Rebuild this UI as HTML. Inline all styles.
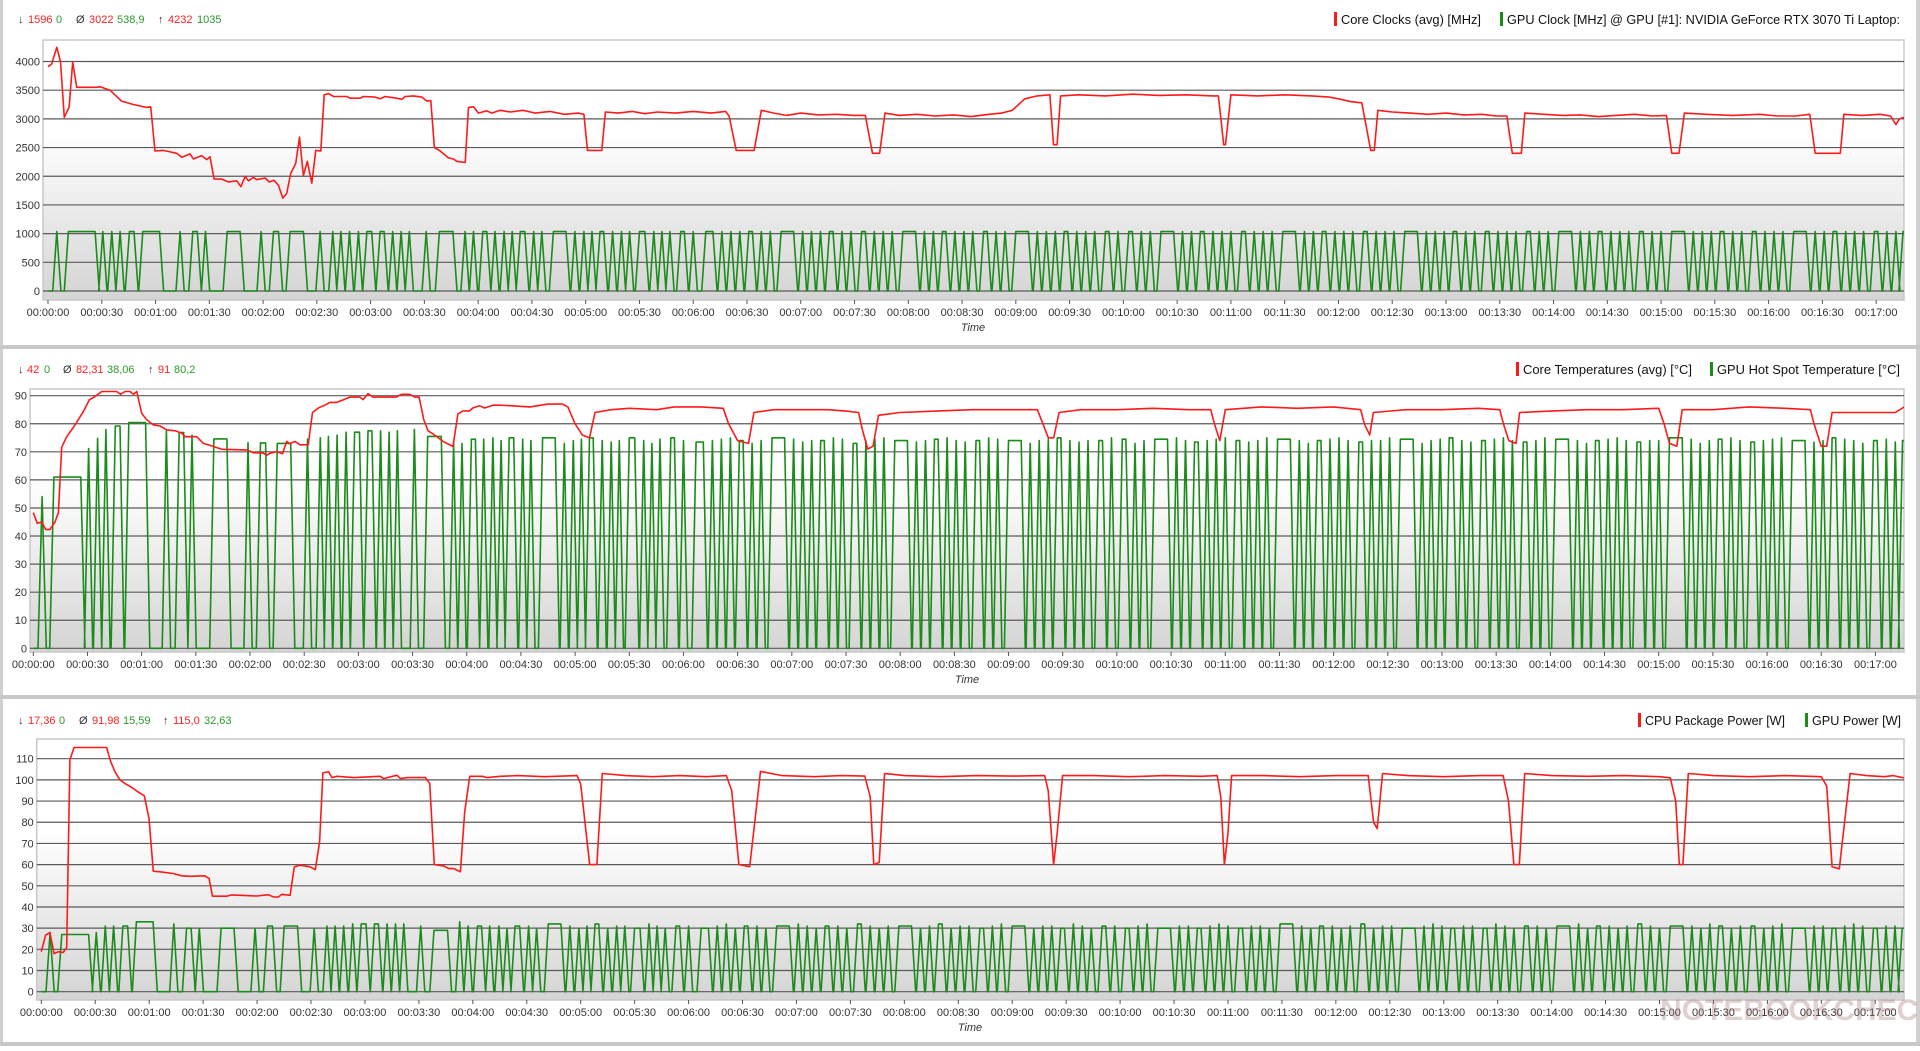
<!DOCTYPE html>
<html><head><meta charset="utf-8"><title>Sensor log</title>
<style>
html,body{margin:0;padding:0;background:#fff;}
body{width:1920px;height:1046px;overflow:hidden;font-family:"Liberation Sans",sans-serif;}
svg text{font-family:"Liberation Sans",sans-serif;}
</style></head>
<body>
<svg id="chart" width="1920" height="1046" viewBox="0 0 1920 1046" xmlns="http://www.w3.org/2000/svg">
<defs>
<linearGradient id="bg" x1="0" y1="0" x2="0" y2="1">
<stop offset="0" stop-color="#ffffff"/><stop offset="0.35" stop-color="#ffffff"/><stop offset="1" stop-color="#d4d4d4"/>
</linearGradient>
</defs>
<rect x="0" y="0" width="1920" height="1046" fill="#fff"/>
<rect x="0" y="0" width="3" height="1046" fill="#d0d0d0"/>
<rect x="1916" y="0" width="4" height="1046" fill="#d0d0d0"/>
<rect x="0" y="345" width="1920" height="4" fill="#c8c8c8"/>
<rect x="0" y="695" width="1920" height="4" fill="#c8c8c8"/>
<rect x="0" y="1042" width="1920" height="4" fill="#c8c8c8"/>
<g id="layer"></g>
<text x="1660" y="1020" font-size="30" font-weight="bold" fill="rgba(170,120,120,0.35)">NOTEBOOKCHECK</text>
</svg>
<script>
// ---------- data ----------
const timeTicks = [0,30,60,90,120,150,180,210,240,270,300,330,360,390,420,450,480,510,540,570,600,630,660,690,720,750,780,810,840,870,900,930,960,990,1020];
const clockTicks = [0,500,1000,1500,2000,2500,3000,3500,4000];
const tempTicks = [0,10,20,30,40,50,60,70,80,90];
const powerTicks = [0,10,20,30,40,50,60,70,80,90,100,110];

const cpuClock = [[0,3910],[2,3955],[4.9,4247],[7,3997],[9.1,3027],[11.8,3200],[13.8,3990],[16,3550],[27,3550],[29,3560],[34.6,3500],[41,3310],[47.6,3250],[55,3200],[57.3,3210],[59.7,2440],[64.4,2450],[71.8,2400],[74.6,2330],[79.3,2390],[81.1,2300],[85.7,2360],[88.5,2290],[90.4,2340],[92.7,1950],[96.9,1950],[100.7,1900],[105.3,1920],[107.6,1820],[110,2000],[111.8,1920],[114.6,1980],[116.5,1940],[121.2,1970],[123.5,1900],[126.1,1930],[128.6,1840],[131,1620],[133.2,1700],[135.4,2050],[138.2,2220],[140.3,2680],[142.5,2010],[144.7,2260],[147.2,1880],[149.4,2450],[152.2,2440],[154.1,3420],[156.5,3440],[159.3,3390],[166.7,3390],[168.6,3360],[174.2,3360],[176,3390],[182.5,3380],[185.3,3350],[188.1,3390],[194.6,3360],[197.4,3340],[199.3,3390],[203.9,3400],[208.6,3380],[211.4,3310],[213.6,3320],[215.6,2500],[218.8,2440],[223.4,2320],[226.2,2300],[228.1,2260],[232.8,2240],[234.6,3200],[237.4,3210],[240.2,3100],[244.8,3140],[247.6,3100],[252.3,3150],[258,3120],[265,3150],[272,3100],[280,3130],[288,3080],[296,3100],[299,3080],[301,2450],[309,2450],[311,3120],[318,3100],[326,3130],[333,3090],[340,3120],[350,3100],[360,3130],[370,3100],[378,3130],[380,3050],[384,2450],[394,2450],[398,3150],[405,3100],[412,3060],[420,3100],[430,3070],[440,3080],[450,3060],[456,3060],[460,2400],[464,2400],[467,3100],[475,3060],[485,3080],[495,3050],[505,3070],[515,3040],[525,3080],[532,3100],[538,3150],[545,3350],[552,3400],[559,3420],[561,2550],[563,2550],[565,3400],[575,3420],[590,3400],[605,3430],[620,3410],[635,3420],[650,3400],[653,3400],[656,2550],[657,2550],[660,3420],[675,3400],[690,3420],[705,3400],[715,3380],[720,3350],[727,3300],[733,3280],[738,2450],[740,2450],[742,3150],[750,3120],[760,3100],[770,3080],[780,3100],[790,3070],[800,3080],[808,3050],[814,3050],[817,2400],[822,2400],[824,3100],[835,3080],[845,3060],[855,3070],[865,3040],[875,3060],[885,3080],[895,3050],[903,3060],[906,2400],[910,2400],[913,3100],[925,3080],[940,3060],[955,3080],[965,3050],[975,3050],[983,3080],[986,2400],[1000,2400],[1002,3080],[1012,3060],[1022,3080],[1028,3050],[1031,2900],[1033,3000],[1036,3030]];

const cpuTemp = [[0,48.3],[2.2,44.5],[4.6,45],[6.9,42.3],[9.2,42.3],[12,45],[13.9,48.3],[15.7,71.6],[18.5,75.4],[22.2,78.7],[27.7,84.3],[31,88.5],[34.2,89.7],[37.9,91.5],[46.2,91.5],[48.4,90.5],[50.8,91.5],[53.6,91.5],[55.4,90.5],[57.3,91.5],[60,83.7],[62.8,81.4],[66.5,79.6],[70.2,79.2],[73.9,77.8],[78.5,77.5],[82.2,76.6],[84,75.4],[90.5,75.4],[94.2,73],[97.9,72.3],[104.4,70.9],[118.2,70.7],[121.9,69.7],[127.4,69.5],[129.3,68.8],[131.1,69.5],[134.8,70.1],[138,69.3],[140.3,73.7],[142.1,72.9],[144.9,73.7],[147.6,72.5],[152.2,72.5],[154.6,84],[157.8,85.6],[161.4,86.6],[164.2,87.6],[167.9,87.6],[170.7,88.3],[175.3,89.5],[180.8,89.5],[182.6,88.6],[185.4,90.7],[188.1,89.5],[201,89.5],[203.8,90.5],[208.4,90.5],[211.2,89.5],[213.6,89.5],[216.2,81.4],[218.6,77.5],[221.3,76.4],[226.9,73.7],[232.4,71.9],[235.1,83.5],[237.9,84.6],[241.6,84.6],[243.4,85.6],[247.1,86.4],[249.9,85.6],[254.5,86.6],[258.2,86.6],[262,86.5],[275,86],[285,87],[293,87],[296,86],[300,80],[304,76],[308,75],[311,84],[320,85],[330,85.5],[345,85],[355,86],[370,86],[382,85.5],[385,80],[390,74],[396,73],[399,84],[410,85],[425,85],[440,85],[450,84.5],[457,84],[459,78],[462,71],[465,72],[468,83],[480,84],[500,84.5],[520,85],[540,85],[556,85],[559,80],[562,75],[565,75],[568,84],[580,85],[600,85],[620,85.5],[640,85],[652,85],[654,80],[657,74],[660,85],[680,86],[700,85.5],[720,86],[735,85],[737,80],[740,76],[742,84],[760,85],[780,85],[800,85.5],[812,85],[814,80],[817,74],[821,73],[823,84],[840,84.5],[860,85],[880,85],[900,85.5],[903,80],[906,73],[910,72],[913,85],[930,85],[950,86],[970,85.5],[984,85],[986,80],[990,72],[993,72],[996,84],[1010,84],[1025,84],[1031,84],[1036,86]];

const cpuPower = [[0,18.9],[2.4,26.7],[4.8,27.9],[7.1,18],[9.5,18.9],[12.2,18.5],[14.1,20.9],[15.9,109.4],[18.2,115.3],[36.3,115.3],[38.6,108.6],[41,103.8],[43.8,99.9],[46.5,98.3],[49.3,97],[53,94.8],[57.3,92.5],[59.9,81.8],[62.3,56.9],[66,56.6],[73.4,55.8],[78.1,54.7],[82.7,54.5],[91,54.7],[93.3,53.4],[95.2,45.1],[103.1,45.1],[105.9,45.7],[119.8,45.2],[126.3,45.8],[129.1,44.7],[131.9,44.7],[133.8,46],[138.4,45.5],[140.7,58.9],[144,59.7],[149.6,58.9],[152.4,57.6],[154.8,70.7],[156.6,103.3],[159.8,103.8],[161.6,101.1],[164.4,101.7],[173.7,101.1],[188.5,101.7],[190.4,100.6],[197.8,102.2],[199.7,100.6],[203.4,101.1],[213.6,101.1],[216,98.3],[218.6,60],[223.8,59.4],[226.6,58.1],[229.4,58.1],[233.1,56.6],[235.5,84.9],[238.3,101.7],[245.2,101.7],[248,101.1],[255.4,101.7],[265,102],[280,101.5],[298,102],[300,98],[305,60],[309,60],[312,103],[325,102],[340,101.5],[355,102],[370,101.5],[381,102],[384,95],[388,60],[394,59],[400,104],[412,102],[430,101.5],[445,102],[458,101.8],[461,92],[463,60],[466,61],[469,103],[480,102],[500,101.5],[520,102],[540,101.8],[558,102],[560,95],[563,60],[565,75],[568,102],[585,102],[605,101.5],[625,102],[645,101.7],[654,102],[656,92],[658,60],[660,75],[662,102],[680,102],[700,101.5],[720,102],[738,102],[741,80],[743,77],[746,103],[760,102],[780,101.5],[800,102],[813,102],[816,90],[819,60],[822,60],[825,103],[840,102],[860,101.7],[880,102],[900,101.5],[906,101],[909,90],[911,60],[913,60],[916,103],[930,102],[950,101.5],[970,102],[990,101.5],[993,97],[996,59],[1000,58],[1006,103],[1015,102],[1025,101.5],[1030,102],[1036,101]];

// GPU activity bursts (start/end time in seconds at top level) shared by the 3 GPU sensors
const gpuStart = [4.9,11.4,30.6,35.6,40.2,45.4,52.9,73.7,80.8,87.9,100,118.9,125.8,135.1,151.8,158.9,163.4,168.2,173.2,177.9,185.3,192.3,197,201.6,211,218.4,232.7,237.4,242.6,249.4,
254.5,259,263.5,271,275.5,282,294,299,303.5,308,315,320,324.5,330,338,342.5,347,353,360,367,376,381,386,391,398,403,409,421,426,431,436,443,448,454,461,466,471,477,489,494,499,506,511,516,522,529,534,540,552,557,562,567,574,579,584,590,597,603,610,615,621,633,638,643,650,655,660,666,673,678,683,689,701,706,711,718,723,728,734,741,746,751,757,769,774,779,784,791,796,802,809,814,819,825,832,837,843,855,860,865,872,877,882,888,895,900,906,918,923,928,933,940,945,951,958,963,968,974,986,991,996,1003,1008,1013,1019,1026,1031,1035];
const gpuEnd = [4.9,26.3,30.6,35.6,40.2,48,62.2,73.7,83.3,87.9,107.2,118.9,128.6,142.5,151.8,158.9,163.4,168.2,173.2,180.6,187.5,192.3,197,201.6,211,225.9,232.7,237.4,244.8,249.4,
254.5,259,266,271,275.5,289,294,299,303.5,310,315,320,324.5,333,338,342.5,347,355,360,371,376,381,386,393,398,403,416,421,426,431,438,443,448,456,461,466,471,484,489,494,501,506,511,516,524,529,534,547,552,557,562,569,574,579,584,592,597,605,610,615,628,633,638,645,650,655,660,668,673,678,683,696,701,706,713,718,723,728,736,741,746,751,764,769,774,779,786,791,796,804,809,814,819,827,832,837,850,855,860,867,872,877,882,890,895,900,913,918,923,928,935,940,945,953,958,963,968,981,986,991,998,1003,1008,1013,1021,1026,1031,1036];
const gpuClock = [1035,1035,1035,1035,1035,1035,1035,1035,1035,1035,1035,1035,1035,1035,1035,1035,1035,1035,1035,1035,1035,1035,1035,1035,1035,1035,1035,1035,1035,1035,
1035,1035,1035,1035,1035,1035,1035,1035,1035,1035,1035,1035,1035,1035,1035,1035,1035,1035,1035,1035,1035,1035,1035,1035,1035,1035,1035,1035,1035,1035,1035,1035,1035,1035,1035,1035,1035,1035,1035,1035,1035,1035,1035,1035,1035,1035,1035,1035,1035,1035,1035,1035,1035,1035,1035,1035,1035,1035,1035,1035,1035,1035,1035,1035,1035,1035,1035,1035,1035,1035,1035,1035,1035,1035,1035,1035,1035,1035,1035,1035,1035,1035,1035,1035,1035,1035,1035,1035,1035,1035,1035,1035,1035,1035,1035,1035,1035,1035,1035,1035,1035,1035,1035,1035,1035,1035,1035,1035,1035,1035,1035,1035,1035,1035,1035,1035,1035,1035,1035,1035,1035,1035,1035,1035,1035,1035,1035,1035];
const gpuTemp = [54,61,71.2,74.8,78,79.2,80.4,77.5,76.9,76,74.6,73.3,73.2,73,74.5,75,75.5,76,77,77,77.5,77.5,77,77.5,78,75.5,73,73,74.5,74.5,
75,74,75,74.5,74,75,73,74,74.5,75,74,73.5,74,75,74,73,74.5,75,74,73.5,74,74.5,75,74,73,74,75,74.5,73.5,74,74,75,74.5,73,74,74.5,75,74,73.5,74,74.5,75,74,73.5,74,75,74.5,74,73,74,74.5,75,74,73.5,74,74,75,74.5,73,74,74.5,75,74,73.5,74,74.5,75,74,73.5,74,75,74.5,74,73,74,74.5,75,74,73.5,74,74,75,74.5,73,74,74.5,75,74,73.5,74,74.5,75,74,73.5,74,75,74.5,74,73,74,74.5,75,74,73.5,74,74,75,74.5,73,74,74.5,75,74,73.5,74,74.5,75,74,73.5,74,75,74.5,74,73,74,74.5,73.5,74];
const gpuPower = [27.9,27,27.9,31,31,31,33,32,30,30,30,30,31,31,30,31,31,31,32,32,32,32,32,32,31,29,33,31,31,31,
31,30,31,31,30,32,31,30,31,32,30,31,31,30,32,31,30,31,31,30,31,32,30,31,31,30,31,32,31,30,31,31,30,32,31,30,31,31,30,31,32,30,31,31,30,31,32,31,30,31,31,30,32,31,30,31,31,30,31,32,30,31,31,30,31,32,31,30,31,31,30,32,31,30,31,31,30,31,32,30,31,31,30,31,32,31,30,31,31,30,32,31,30,31,31,30,31,32,30,31,31,30,31,32,31,30,31,31,30,32,31,30,31,31,30,31,32,30,31,31,30,31,32,31,30,31,31,30];

// ---------- drawing ----------
const NS = 'http://www.w3.org/2000/svg';
const layer = document.getElementById('layer');
function mk(tag, attrs, parent) {
  const e = document.createElementNS(NS, tag);
  for (const k in attrs) e.setAttribute(k, attrs[k]);
  (parent || layer).appendChild(e);
  return e;
}
function fmt(s){const h=Math.floor(s/3600),m=Math.floor(s/60)%60,x=s%60;const p=n=>String(n).padStart(2,'0');return p(h)+':'+p(m)+':'+p(x);}

function drawPanel(P) {
  const g = mk('g', {});
  
  
  const xs = t => P.x0 + P.px * t;
  const ys = v => P.yZero - (P.yZero - P.yTop) * v / P.vTop;
  const bg = mk('rect', {x:P.left, y:P.top, width:P.right-P.left, height:P.bottom-P.top, fill:'url(#bg)', stroke:'#c8c8c8', 'stroke-width':1.5}, g);
  
  
  P.yTicks.forEach(v => {
    const y = ys(v);
    const gl = mk('line', {x1:P.left, x2:P.right, y1:y, y2:y, stroke:'#5a5a5a', 'stroke-width':1.2}, g);
    
    
    const tl = mk('text', {x:P.left-3, y:y+4, 'font-size':11, fill:'#333', 'text-anchor':'end'}, g);
    tl.textContent = v;
    
    
  });
  timeTicks.forEach(t => {
    const x = xs(t);
    mk('line', {x1:x, x2:x, y1:P.bottom, y2:P.bottom+4, stroke:'#555', 'stroke-width':1}, g);
    const tl = mk('text', {x:x, y:P.bottom+16, 'font-size':11, fill:'#333', 'text-anchor':'middle'}, g);
    tl.textContent = fmt(t);
    
    
  });
  const tt = mk('text', {x:P.timeX, y:P.bottom+31, 'font-size':11, 'font-style':'italic', fill:'#333', 'text-anchor':'middle'}, g);
  tt.textContent = 'Time';
  
  

  const clipId = 'clip' + P.name;
  const cp = mk('clipPath', {id:clipId}, g);
  mk('rect', {x:P.left, y:P.top, width:P.right-P.left, height:P.bottom-P.top}, cp);

  // green series
  const gp = [[xs(0), ys(0)]];
  for (let i = 0; i < gpuStart.length; i++) {
    const h = P.green[i];
    gp.push([xs(gpuStart[i]-2.3), ys(0)]);
    gp.push([xs(gpuStart[i]), ys(h)]);
    gp.push([xs(gpuEnd[i]), ys(h)]);
    if (gpuEnd[i] + 2.3 <= 1037) gp.push([xs(gpuEnd[i]+2.3), ys(0)]);
  }
  const gl = mk('polyline', {points: gp.map(p=>p[0].toFixed(1)+','+p[1].toFixed(1)).join(' '), fill:'none', stroke:'#1a8c1a', 'stroke-width':1.6, 'stroke-linejoin':'round', 'clip-path':'url(#'+clipId+')'}, g);
  
  
  // red series
  const rl = mk('polyline', {points: P.red.map(p=>xs(p[0]).toFixed(1)+','+ys(p[1]).toFixed(1)).join(' '), fill:'none', stroke:'#ff1a1a', 'stroke-width':1.6, 'stroke-linejoin':'round', 'clip-path':'url(#'+clipId+')'}, g);
  
  

  // stats
  const st = mk('g', {'font-size':11}, g);
  
  
  P.stats.forEach(s => {
    const t = mk('text', {x:s[0], y:P.statY, fill:s[2]}, st);
    t.textContent = s[1];
  });
  // legend
  P.legend.forEach(L => {
    const lg = mk('g', {}, g);
    
    
    mk('rect', {x:L[0], y:P.statY-11, width:3, height:14, fill:L[3]}, lg);
    const t = mk('text', {x:L[0]+7, y:P.statY+1, 'font-size':12.5, fill:'#111', textLength:L[1], lengthAdjust:'spacingAndGlyphs'}, lg);
    t.textContent = L[2];
  });
}

drawPanel({name:'clock-panel', left:43, right:1904, top:40, bottom:300, x0:48, px:1.7923, yZero:291, yTop:61.5, vTop:4000, yTicks:clockTicks,
  red:cpuClock, green:gpuClock, redName:'core-clock-line', greenName:'gpu-clock-line', timeX:973, statY:23,
  stats:[[18,'↓','#333'],[28,'1596','#ff2020'],[56,'0','#2a9a2a'],[76,'Ø','#333'],[89,'3022','#ff2020'],[117,'538,9','#2a9a2a'],[158,'↑','#333'],[168,'4232','#ff2020'],[197,'1035','#2a9a2a']],
  legend:[[1334,140,'Core Clocks (avg) [MHz]','#ff1a1a'],[1500,393,'GPU Clock [MHz] @ GPU [#1]: NVIDIA GeForce RTX 3070 Ti Laptop:','#1a8c1a']]});

drawPanel({name:'temperature-panel', left:30, right:1904, top:389, bottom:652, x0:33.3, px:1.806, yZero:648.3, yTop:395.7, vTop:90, yTicks:tempTicks,
  red:cpuTemp, green:gpuTemp, redName:'core-temp-line', greenName:'gpu-hotspot-line', timeX:967, statY:373,
  stats:[[18,'↓','#333'],[27,'42','#ff2020'],[44,'0','#2a9a2a'],[63,'Ø','#333'],[76,'82,31','#ff2020'],[107,'38,06','#2a9a2a'],[148,'↑','#333'],[158,'91','#ff2020'],[174,'80,2','#2a9a2a']],
  legend:[[1516,169,'Core Temperatures (avg) [°C]','#ff1a1a'],[1710,183,'GPU Hot Spot Temperature [°C]','#1a8c1a']]});

drawPanel({name:'power-panel', left:36.7, right:1904, top:739, bottom:1000, x0:41.3, px:1.798, yZero:991.7, yTop:758.7, vTop:110, yTicks:powerTicks,
  red:cpuPower, green:gpuPower, redName:'cpu-power-line', greenName:'gpu-power-line', timeX:970, statY:724,
  stats:[[18,'↓','#333'],[28,'17,36','#ff2020'],[59,'0','#2a9a2a'],[79,'Ø','#333'],[92,'91,98','#ff2020'],[123,'15,59','#2a9a2a'],[163,'↑','#333'],[173,'115,0','#ff2020'],[204,'32,63','#2a9a2a']],
  legend:[[1638,140,'CPU Package Power [W]','#ff1a1a'],[1805,89,'GPU Power [W]','#1a8c1a']]});
</script>
</body></html>
